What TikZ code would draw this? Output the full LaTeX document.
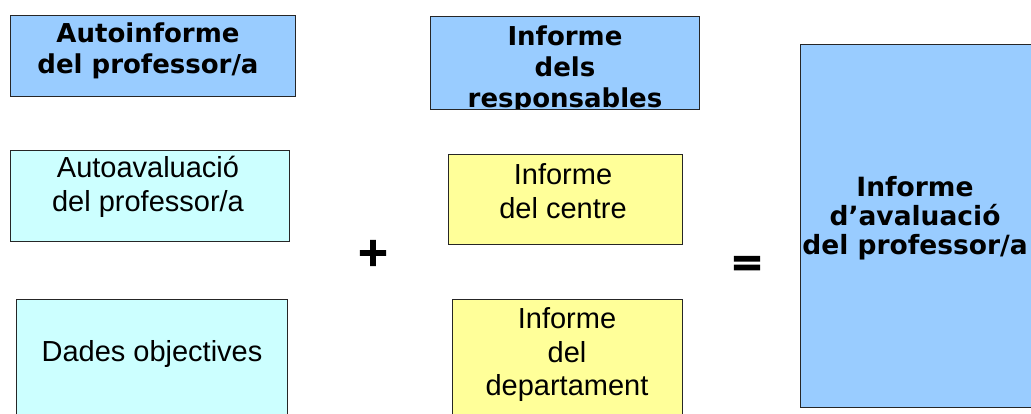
\documentclass[tikz,border=0pt]{standalone}
\usepackage{fontspec}
\setmainfont{Liberation Sans}
\newfontfamily\headfont{DejaVu Sans}
\newfontfamily\signfont{DejaVu Sans}[FakeBold=3]
\usetikzlibrary{positioning}

\definecolor{infoblue}{HTML}{99CCFF}
\definecolor{infocyan}{HTML}{CCFFFF}
\definecolor{infoyellow}{HTML}{FFFF99}

\tikzset{
	box/.style={draw=black!85, line width=1.1pt, inner sep=0pt, anchor=north west},
	bluebox/.style={box, fill=infoblue},
	cyanbox/.style={box, fill=infocyan},
	yellowbox/.style={box, fill=infoyellow},
	headtext/.style={align=center, inner sep=0pt, font=\headfont\bfseries\fontsize{26}{31}\selectfont},
	plaintext/.style={align=center, inner sep=0pt, font=\fontsize{29}{33.5}\selectfont},
	signtext/.style={inner sep=0pt, font=\signfont\bfseries\fontsize{40}{40}\selectfont}
}

\begin{document}
\begin{tikzpicture}[x=1pt, y=-1pt]
	\useasboundingbox (0,0) rectangle (1031,414);
	
	% --- 1. AUTOINFORME ---
	\node[bluebox, minimum width=285pt, minimum height=81pt] (autoinf) at (10,15) {};
	\node[headtext] (autoinfT) at (148,51) {Autoinforme\\del professor/a};
	
	\node[cyanbox, minimum width=279pt, minimum height=91pt] (autoav) at (10,150) {};
	\node[plaintext] (autoavT) at (148,187) {Autoavaluació\\del professor/a};
	
	\node[cyanbox, minimum width=271pt, minimum height=130pt] (dades) at (16,299) {};
	\node[plaintext] (dadesT) at (152,354) {Dades objectives};
	
	% --- 2. INFORME DELS RESPONSABLES ---
	\node[bluebox, minimum width=269pt, minimum height=93pt] (resp) at (430,16) {};
	\begin{scope}
		\clip (430,16) rectangle (699,109);
		\node[headtext] (respT) at (565,69) {Informe\\dels\\responsables};
	\end{scope}
	
	\node[yellowbox, minimum width=234pt, minimum height=90pt] (centre) at (448,154) {};
	\node[plaintext] (centreT) at (563,191) {Informe\\del centre};
	
	\node[yellowbox, minimum width=230pt, minimum height=130pt] (dept) at (452,299) {};
	\node[plaintext] (deptT) at (567,355) {Informe\\del\\departament};
	
	% --- 3. RESULTAT ---
	\node[bluebox, minimum width=231pt, minimum height=363pt] (final) at (800,44) {};
	\node[headtext, font=\headfont\bfseries\fontsize{26.5}{29}\selectfont] (finalT) at (915,218) {Informe\\d’avaluació\\del professor/a};
	
	% signs
	\node[signtext] (plus) at (373,253) {+};
	\node[signtext] (equals) at (747,266) {=};
\end{tikzpicture}
\end{document}
